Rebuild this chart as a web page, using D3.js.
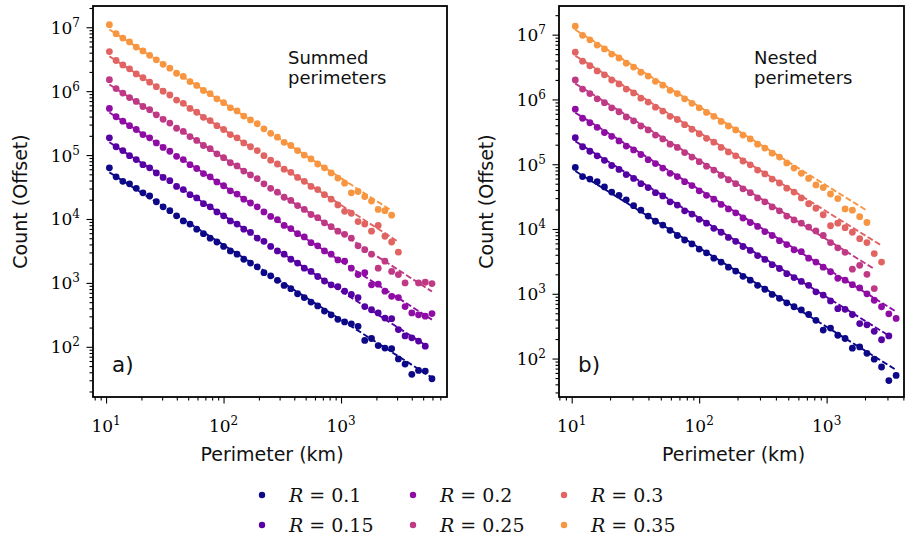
<!DOCTYPE html>
<html><head><meta charset="utf-8">
<script src="https://cdn.jsdelivr.net/npm/d3@7"></script>
<style>body{margin:0;background:#fff}</style>
</head><body>
<svg id="c" width="906" height="539"></svg>
<script>
// ---------- DATA ----------
// perimeter bin centres (km), shared by every series
const perimeterKm = [10.67,12.17,13.89,15.84,18.07,20.6,23.5,26.8,30.6,34.9,39.8,45.4,51.8,59.1,67.4,76.9,87.8,100.1,114.2,130.3,148.7,169.6,193.5,220.7,251.8,287.3,327.7,373.9,426.5,486.6,555.1,633.2,722.4,824.1,940.2,1073,1224,1396,1592,1817,2072,2364,2697,3077,3510,4004,4568,5211,5945];
const rLabels = ["0.1","0.15","0.2","0.25","0.3","0.35"];
const colorPos = [0,0.15,0.3,0.45,0.6,0.75];

// log10(count, offset) — panel a) summed perimeters
const summedR010 = [4.80,4.66,4.59,4.55,4.48,4.41,4.36,4.27,4.19,4.13,4.05,3.97,3.92,3.84,3.77,3.70,3.64,3.57,3.50,3.45,3.37,3.31,3.25,3.16,3.11,3.04,2.96,2.91,2.83,2.77,2.70,2.64,2.56,2.50,2.43,2.39,2.36,2.32,2.10,2.13,2.02,1.98,1.97,1.81,1.73,1.57,1.63,1.62,1.50];
const summedR015 = [5.27,5.13,5.07,4.99,4.93,4.85,4.80,4.72,4.65,4.60,4.51,4.46,4.38,4.33,4.24,4.19,4.11,4.05,3.97,3.92,3.84,3.79,3.70,3.65,3.57,3.50,3.45,3.37,3.31,3.23,3.18,3.10,3.03,2.97,2.94,2.87,2.82,2.77,2.63,2.58,2.53,2.45,2.44,2.27,2.17,2.14,2.09,2.01];
const summedR020 = [5.73,5.60,5.53,5.46,5.40,5.32,5.27,5.19,5.12,5.06,4.98,4.93,4.85,4.79,4.71,4.66,4.58,4.52,4.44,4.39,4.31,4.25,4.19,4.11,4.04,3.99,3.90,3.85,3.77,3.72,3.63,3.58,3.50,3.45,3.36,3.34,3.23,3.13,3.16,2.97,2.98,2.87,2.79,2.77,2.63,2.53,2.50,2.48,2.52];
const summedR025 = [6.18,6.04,5.97,5.90,5.84,5.76,5.71,5.63,5.56,5.50,5.42,5.37,5.29,5.23,5.15,5.10,5.02,4.96,4.88,4.83,4.75,4.69,4.63,4.55,4.48,4.42,4.34,4.29,4.21,4.15,4.07,4.02,3.94,3.88,3.81,3.76,3.70,3.58,3.52,3.45,3.23,3.34,3.18,3.13,3.00,null,3.00,3.01,2.99];
const summedR030 = [6.62,6.48,6.41,6.35,6.27,6.21,6.14,6.07,6.00,5.94,5.86,5.81,5.73,5.67,5.59,5.54,5.46,5.40,5.32,5.27,5.19,5.13,5.07,4.99,4.92,4.86,4.78,4.73,4.65,4.59,4.51,4.46,4.38,4.31,4.22,4.12,4.09,3.96,3.92,3.81,3.90,3.73,3.64,3.48];
const summedR035 = [7.04,6.90,6.83,6.77,6.69,6.63,6.56,6.49,6.42,6.36,6.28,6.23,6.15,6.09,6.01,5.96,5.88,5.82,5.74,5.69,5.61,5.55,5.49,5.41,5.34,5.28,5.20,5.15,5.07,5.00,4.94,4.86,4.80,4.72,4.64,4.56,4.41,4.43,4.35,4.28,4.15,4.13,4.06];
const summedFitLog0 = [4.73,5.20,5.665,6.105,6.545,6.965];   // log10 fit value at first bin
const summedFitAlpha = [-1.17,-1.18,-1.18,-1.18,-1.18,-1.18];

// log10(count, offset) — panel b) nested perimeters
const nestedR010 = [4.95,4.81,4.77,4.73,4.65,4.57,4.52,4.45,4.36,4.29,4.20,4.12,4.06,3.98,3.90,3.83,3.77,3.69,3.63,3.55,3.49,3.41,3.35,3.27,3.21,3.13,3.07,2.99,2.93,2.86,2.80,2.75,2.68,2.59,2.44,2.47,2.36,2.31,2.16,2.18,2.08,1.99,1.87,1.66,1.74];
const nestedR015 = [5.41,5.27,5.20,5.13,5.06,4.98,4.92,4.84,4.78,4.70,4.64,4.56,4.51,4.42,4.37,4.28,4.23,4.15,4.09,4.01,3.95,3.87,3.81,3.73,3.67,3.59,3.53,3.45,3.39,3.31,3.25,3.19,3.13,3.03,2.98,2.89,2.77,2.76,2.68,2.54,2.52,2.42,2.29,2.35];
const nestedR020 = [5.85,5.71,5.64,5.57,5.49,5.43,5.36,5.28,5.22,5.15,5.07,5.01,4.94,4.86,4.81,4.73,4.67,4.59,4.52,4.46,4.38,4.31,4.25,4.17,4.10,4.04,3.96,3.90,3.82,3.76,3.68,3.65,3.55,3.49,3.41,3.34,3.24,3.21,3.14,3.09,3.00,2.90,2.80,2.69,2.62];
const nestedR025 = [6.30,6.16,6.09,6.01,5.95,5.87,5.81,5.73,5.67,5.59,5.53,5.45,5.39,5.31,5.26,5.18,5.11,5.04,4.97,4.91,4.83,4.76,4.70,4.62,4.56,4.48,4.42,4.34,4.28,4.20,4.14,4.09,4.03,3.97,3.90,3.79,3.71,3.64,3.38,3.44,3.30,3.08];
const nestedR030 = [6.73,6.59,6.52,6.44,6.38,6.30,6.24,6.16,6.10,6.02,5.96,5.88,5.82,5.74,5.69,5.61,5.54,5.47,5.40,5.34,5.26,5.19,5.13,5.05,4.99,4.91,4.85,4.77,4.71,4.63,4.57,4.48,4.39,4.32,4.22,4.05,4.09,4.02,3.95,3.85,3.79,3.62,3.49];
const nestedR035 = [7.13,6.99,6.92,6.84,6.78,6.70,6.64,6.56,6.50,6.42,6.36,6.28,6.22,6.14,6.09,6.01,5.94,5.87,5.80,5.74,5.66,5.59,5.53,5.45,5.39,5.31,5.25,5.17,5.11,5.02,4.94,4.86,4.78,4.68,4.64,4.54,4.47,4.31,4.29,4.19,4.10];
const nestedFitLog0 = [4.895,5.355,5.795,6.245,6.675,7.075];
const nestedFitAlpha = [-1.22,-1.22,-1.22,-1.22,-1.22,-1.22];

// axes
const xTickValues = [10,100,1000];
const xTickExp = ["1","2","3"];
const yTickValues = [1e2,1e3,1e4,1e5,1e6,1e7];
const yTickExp = ["2","3","4","5","6","7"];
const summedXLim = [7.74,7980], summedYLim = [16.4,2.15e7];
const nestedXLim = [7.95,4046], nestedYLim = [25.5,2.77e7];

// ---------- LAYOUT ----------
const panels = [
  {series:[summedR010,summedR015,summedR020,summedR025,summedR030,summedR035],
   fitLog0:summedFitLog0, fitAlpha:summedFitAlpha, xLim:summedXLim, yLim:summedYLim,
   box:{l:93,r:447,t:6,b:397}, tag:"a)", note:["Summed","perimeters"]},
  {series:[nestedR010,nestedR015,nestedR020,nestedR025,nestedR030,nestedR035],
   fitLog0:nestedFitLog0, fitAlpha:nestedFitAlpha, xLim:nestedXLim, yLim:nestedYLim,
   box:{l:559,r:904,t:6,b:397}, tag:"b)", note:["Nested","perimeters"]}
];
const SANS = "DejaVu Sans", SERIF = "DejaVu Serif";
const svg = d3.select("#c");

function minorTicks([lo,hi]){
  const out=[];
  for(let e=Math.floor(Math.log10(lo)); e<=Math.ceil(Math.log10(hi)); e++)
    for(let d=2; d<=9; d++){ const v=d*Math.pow(10,e); if(v>=lo && v<=hi) out.push(v); }
  return out;
}

panels.forEach(p=>{
  const B=p.box;
  const x=d3.scaleLog().domain(p.xLim).range([B.l,B.r]);
  const y=d3.scaleLog().domain(p.yLim).range([B.b,B.t]);
  const g=svg.append("g");

  const styleAxis = s=>{ s.select(".domain").remove(); s.selectAll("line").attr("stroke","#000").attr("stroke-width",1.1); };
  g.append("g").attr("transform",`translate(0,${B.b})`)
    .call(d3.axisBottom(x).tickValues(minorTicks(p.xLim)).tickSize(3.5).tickFormat("")).call(styleAxis);
  g.append("g").attr("transform",`translate(0,${B.b})`)
    .call(d3.axisBottom(x).tickValues(xTickValues).tickSize(6.5).tickFormat("")).call(styleAxis);
  g.append("g").attr("transform",`translate(${B.l},0)`)
    .call(d3.axisLeft(y).tickValues(minorTicks(p.yLim)).tickSize(3.5).tickFormat("")).call(styleAxis);
  g.append("g").attr("transform",`translate(${B.l},0)`)
    .call(d3.axisLeft(y).tickValues(yTickValues).tickSize(6.5).tickFormat("")).call(styleAxis);

  // tick labels 10^n
  xTickValues.forEach((v,i)=>{
    const t=g.append("text").attr("x",x(v)).attr("y",B.b+35).attr("text-anchor","middle")
      .attr("font-family",SERIF).attr("font-size",17).attr("fill","#000");
    t.append("tspan").text("10");
    t.append("tspan").attr("dy",-7).attr("font-size",12).text(xTickExp[i]);
  });
  yTickValues.forEach((v,i)=>{
    const t=g.append("text").attr("x",B.l-13).attr("y",y(v)+6.5).attr("text-anchor","end")
      .attr("font-family",SERIF).attr("font-size",17).attr("fill","#000");
    t.append("tspan").text("10");
    t.append("tspan").attr("dy",-7).attr("font-size",12).text(yTickExp[i]);
  });

  // data
  p.series.forEach((vals,k)=>{
    const col=d3.interpolatePlasma(colorPos[k]);
    const pts=vals.map((v,i)=> v==null?null:{px:perimeterKm[i], c:Math.pow(10,v)}).filter(d=>d);
    g.append("g").selectAll("circle").data(pts).enter().append("circle")
      .attr("cx",d=>x(d.px)).attr("cy",d=>y(d.c)).attr("r",3.4).attr("fill",col);
    const x0=perimeterKm[0], x1=perimeterKm[vals.length-1];
    const fit=xx=>Math.pow(10,p.fitLog0[k]+p.fitAlpha[k]*(Math.log10(xx)-Math.log10(x0)));
    g.append("path").attr("d",d3.line()([[x(x0),y(fit(x0))],[x(x1),y(fit(x1))]]))
      .attr("stroke",col).attr("stroke-width",1.9).attr("stroke-dasharray","6,2.6").attr("fill","none");
  });

  // frame
  g.append("rect").attr("x",B.l).attr("y",B.t).attr("width",B.r-B.l).attr("height",B.b-B.t)
    .attr("fill","none").attr("stroke","#000").attr("stroke-width",1.8);

  // labels
  g.append("text").attr("transform",`translate(${B.l-66},${(B.t+B.b)/2}) rotate(-90)`)
    .attr("text-anchor","middle").attr("font-family",SANS).attr("font-size",19).attr("fill","#111")
    .text("Count (Offset)");
  g.append("text").attr("x",(B.l+B.r)/2+2).attr("y",461).attr("text-anchor","middle")
    .attr("font-family",SANS).attr("font-size",19).attr("fill","#111").text("Perimeter (km)");
  g.append("text").attr("x",B.l+19).attr("y",372).attr("font-family",SANS).attr("font-size",21.5)
    .attr("fill","#111").text(p.tag);
  p.note.forEach((s,i)=>g.append("text").attr("x",B.l+195).attr("y",63.5+20*i)
    .attr("font-family",SANS).attr("font-size",18).attr("fill","#111").text(s));
});

// legend (3 columns x 2 rows, column-major)
const legX=[262,413,564], legY=[495,525];
rLabels.forEach((lab,k)=>{
  const cx=legX[Math.floor(k/2)], cy=legY[k%2];
  svg.append("circle").attr("cx",cx).attr("cy",cy).attr("r",3.2).attr("fill",d3.interpolatePlasma(colorPos[k]));
  const t=svg.append("text").attr("x",cx+27).attr("y",cy+7).attr("font-family",SERIF).attr("font-size",19).attr("fill","#111");
  t.append("tspan").attr("font-style","italic").text("R");
  t.append("tspan").attr("dx",6).text("=");
  t.append("tspan").attr("dx",6).text(lab);
});
</script>
</body></html>
